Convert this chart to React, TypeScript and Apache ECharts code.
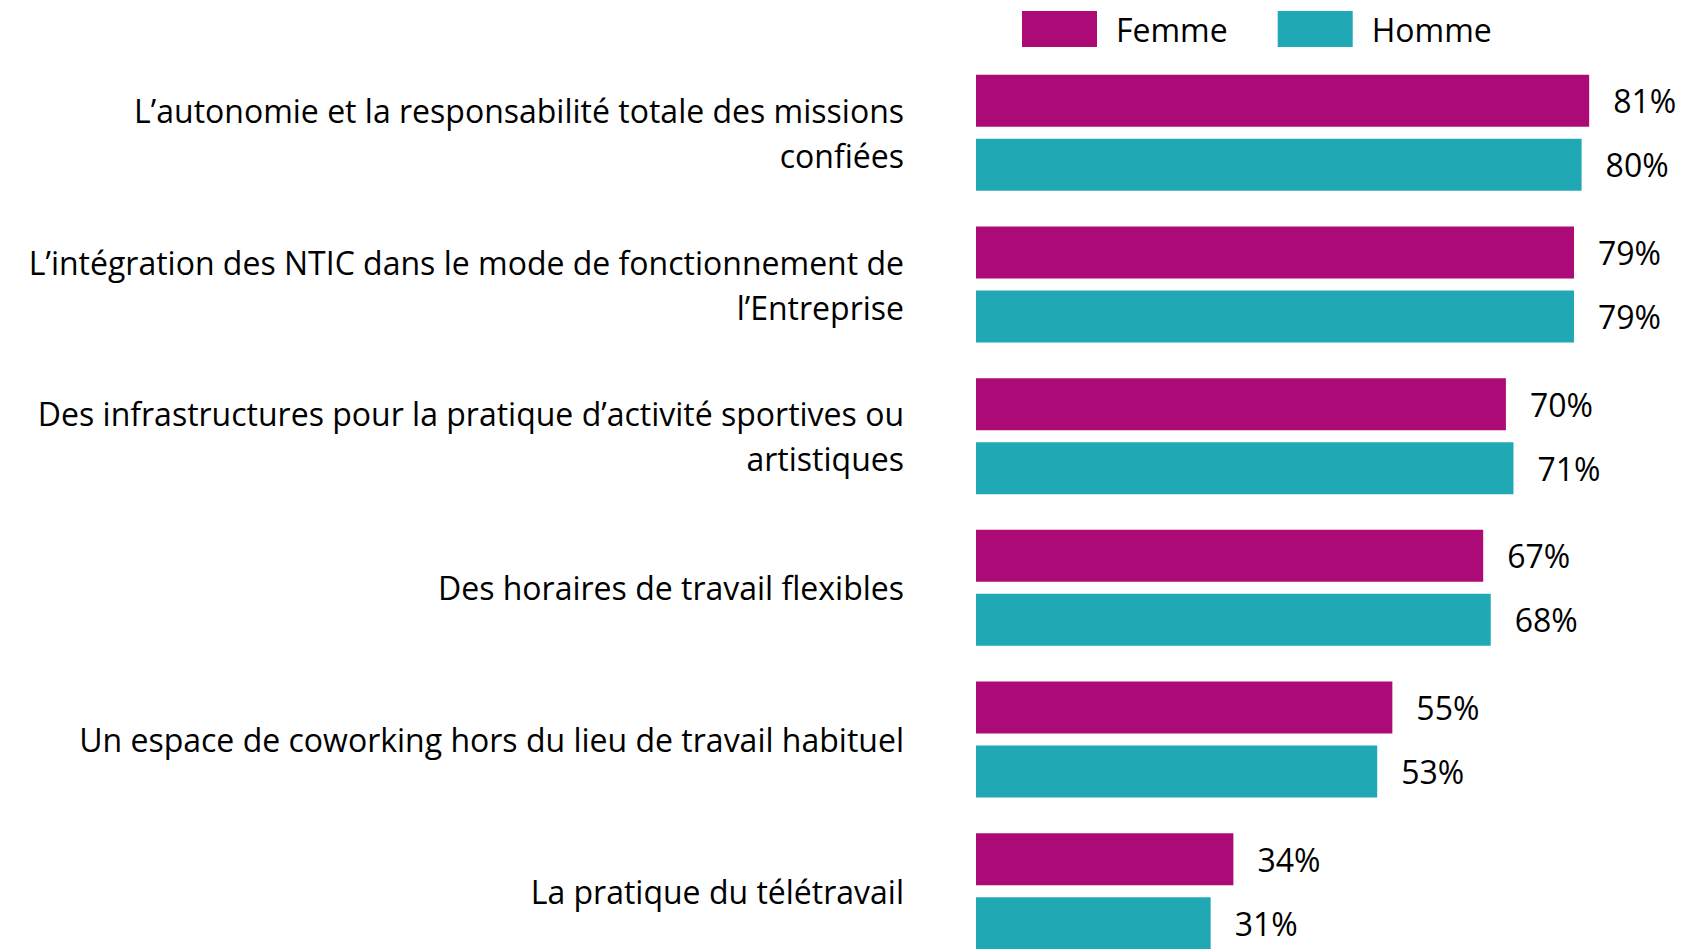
import React, { useEffect, useRef } from "react";
import * as echarts from "echarts";

const categories: string[] = [
  "L’autonomie et la responsabilité totale des missions\nconfiées",
  "L’intégration des NTIC dans le mode de fonctionnement de\nl’Entreprise",
  "Des infrastructures pour la pratique d’activité sportives ou\nartistiques",
  "Des horaires de travail flexibles",
  "Un espace de coworking hors du lieu de travail habituel",
  "La pratique du télétravail",
];
const femmeValues: number[] = [81, 79, 70, 67, 55, 34];
const hommeValues: number[] = [80, 79, 71, 68, 53, 31];
const seriesNames: string[] = ["Femme", "Homme"];
const FONT = "'Open Sans', sans-serif";
const FS = 32;

export default function App() {
  const ref = useRef<HTMLDivElement>(null);
  useEffect(() => {
    if (!ref.current) return;
    const chart = echarts.init(ref.current, null, { renderer: "svg" });
    const labelCfg = {
      show: true,
      position: "right",
      distance: 24,
      formatter: "{c}%",
      fontSize: FS,
      color: "#000",
      fontFamily: FONT,
    };
    chart.setOption({
      animation: false,
      textStyle: { fontFamily: FONT },
      legend: {
        left: 1022,
        top: 11,
        padding: 0,
        itemWidth: 75,
        itemHeight: 36,
        itemGap: 50,
        icon: "rect",
        data: seriesNames,
        textStyle: {
          fontSize: FS,
          color: "#000",
          fontFamily: FONT,
          padding: [0, 0, 0, 14],
        },
      },
      grid: { left: 976, top: 57, width: 757, height: 910, containLabel: false },
      xAxis: {
        type: "value",
        min: 0,
        max: 100,
        show: false,
      },
      yAxis: {
        type: "category",
        inverse: true,
        data: categories,
        axisLine: { show: false },
        axisTick: { show: false },
        splitLine: { show: false },
        axisLabel: {
          fontSize: FS,
          lineHeight: 45,
          color: "#000",
          margin: 72,
          align: "right",
          fontFamily: FONT,
        },
      },
      series: [
        {
          name: seriesNames[0],
          type: "bar",
          data: femmeValues,
          barWidth: 52,
          barGap: "23%",
          itemStyle: { color: "#AC0A77" },
          label: labelCfg,
        },
        {
          name: seriesNames[1],
          type: "bar",
          data: hommeValues,
          barWidth: 52,
          barGap: "23%",
          itemStyle: { color: "#20A9B4" },
          label: labelCfg,
        },
      ],
    });
    return () => chart.dispose();
  }, []);
  return (
    <div
      ref={ref}
      style={{ position: "fixed", left: 0, top: 0, width: 1760, height: 1000, background: "#fff" }}
    />
  );
}
